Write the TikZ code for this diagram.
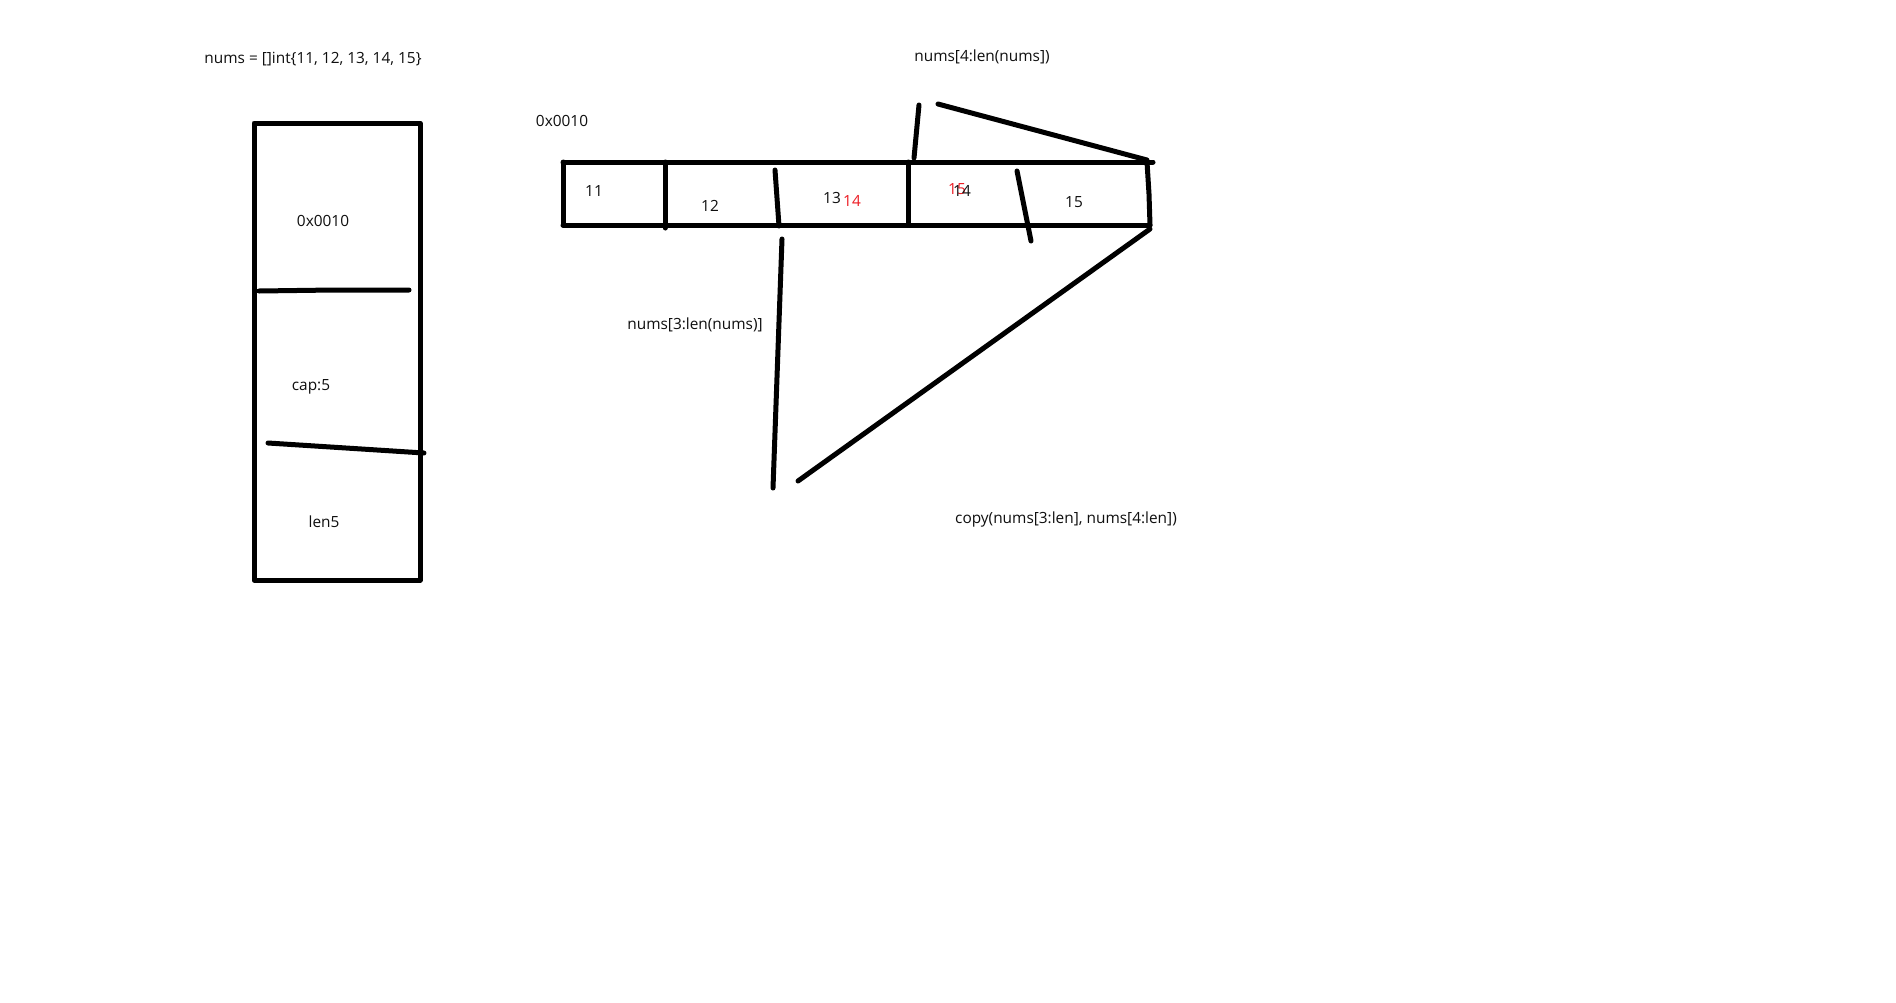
\documentclass[tikz,border=0pt]{standalone}
\usepackage{fontspec}
\setmainfont{Open Sans}
\definecolor{inkred}{RGB}{237,28,36}
\definecolor{ink}{RGB}{15,15,15}
\begin{document}
\begin{tikzpicture}[x=1pt,y=-1pt,
  stroke/.style={line width=5pt, line cap=round, line join=round, black},
  lbl/.style={font=\fontsize{15.4}{17}\selectfont, inner sep=0pt, anchor=center, text=ink},
  redlbl/.style={lbl, text=inkred}]
\useasboundingbox[fill=white] (0,0) rectangle (1896,1002);

% title
\node[lbl] (title) at (313,59) {nums = []int\{11, 12, 13, 14, 15\}};

% slice header box
\coordinate (hb1) at (254,123);
\coordinate (hb2) at (420,580);
\draw[stroke] (hb1) rectangle (hb2);
\coordinate (d1a) at (259,291);
\coordinate (d1m) at (334,290);
\coordinate (d1b) at (409,290);
\draw[stroke] (d1a) -- (d1m) -- (d1b);
\coordinate (d2a) at (268,443);
\coordinate (d2b) at (424,453);
\draw[stroke] (d2a) -- (d2b);
\node[lbl] (hptr) at (323,221) {0x0010};
\node[lbl] (hcap) at (311,387) {cap:5};
\node[lbl] (hlen) at (324,522) {len5};

% array
\node[lbl] (aaddr) at (562,121) {0x0010};
\coordinate (a1) at (563,162);
\coordinate (a2) at (1147,162);
\coordinate (a3) at (1150,225);
\coordinate (a4) at (563,225);
\coordinate (a2x) at (1153,162);
\draw[stroke] (a1) -- (a2x);
\draw[stroke] (a4) -- (a3);
\draw[stroke] (a1) -- (a4);
\coordinate (a23) at (1149,194);
\draw[stroke] (a2) -- (a23) -- (a3);
\coordinate (c1t) at (665,162);
\coordinate (c1b) at (665,228);
\draw[stroke] (c1t) -- (c1b);
\coordinate (c2t) at (908,162);
\coordinate (c2b) at (908,225);
\draw[stroke] (c2t) -- (c2b);

% cell labels
\node[lbl] (v11) at (594,191) {11};
\node[lbl] (v12) at (710,206) {12};
\node[lbl] (v13) at (832,198) {13};
\node[redlbl] (v13r) at (852,201) {14};
\node[redlbl] (v14r) at (957,189) {15};
\node[lbl] (v14) at (962,191) {14};
\node[lbl] (v15) at (1074,202) {15};

% slice marks
\coordinate (m1t) at (775,170);
\coordinate (m1b) at (779,226);
\draw[stroke] (m1t) -- (m1b);
\coordinate (m2t) at (1017,171);
\coordinate (m2b) at (1031,241);
\draw[stroke] (m2t) -- (m2b);

% nums[3:] bracket
\coordinate (s3t) at (782,239);
\coordinate (s3b) at (773,488);
\draw[stroke] (s3t) -- (s3b);
\coordinate (s3d) at (798,481);
\coordinate (a3b) at (1150,229);
\draw[stroke] (a3b) -- (s3d);
\node[lbl] (l3) at (695,325) {nums[3:len(nums)]};

% nums[4:] bracket
\coordinate (s4t) at (919,105);
\coordinate (s4b) at (914,158);
\draw[stroke] (s4t) -- (s4b);
\coordinate (s4r) at (938,104);
\coordinate (s4e) at (1147,160);
\draw[stroke] (s4r) -- (s4e);
\node[lbl] (l4) at (982,57) {nums[4:len(nums])};

\node[lbl] (lcopy) at (1066,519) {copy(nums[3:len], nums[4:len])};
\end{tikzpicture}
\end{document}
